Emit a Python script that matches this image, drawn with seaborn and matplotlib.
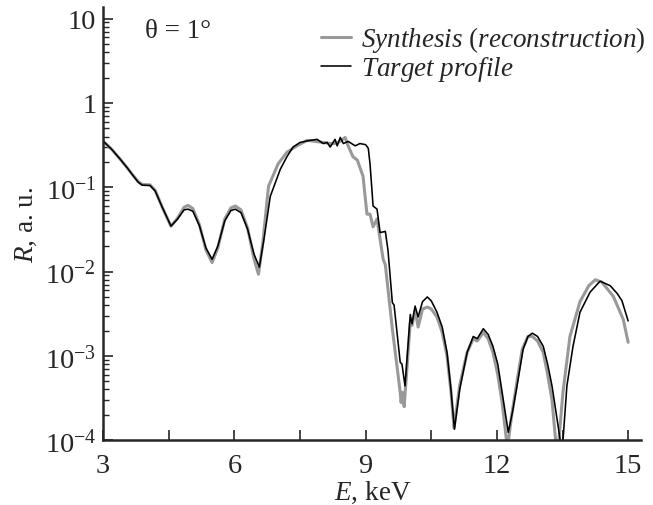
import numpy as np
import pandas as pd
import matplotlib
matplotlib.use("Agg")
import matplotlib.pyplot as plt
import seaborn as sns
from matplotlib.ticker import LogLocator, FixedLocator, NullFormatter

# ======================================================
# Data
# ======================================================

E_target = [3.00, 3.20, 3.39, 3.55, 3.69, 3.80, 3.89, 4.07, 4.19, 4.35,
            4.55, 4.70, 4.85, 4.94, 5.05, 5.20, 5.35, 5.49, 5.62, 5.78,
            5.92, 6.02, 6.15, 6.30, 6.45, 6.57, 6.68, 6.82, 7.05, 7.20,
            7.34, 7.50, 7.73, 7.89, 8.03, 8.12, 8.19, 8.30, 8.35, 8.42,
            8.49, 8.60, 8.76, 8.87, 9.00, 9.06, 9.10, 9.17, 9.26, 9.33,
            9.45, 9.51, 9.61, 9.65, 9.79, 9.83, 9.90, 10.02, 10.06, 10.13,
            10.20, 10.30, 10.41, 10.50, 10.63, 10.75, 10.86, 10.95, 11.03, 11.15,
            11.32, 11.46, 11.55, 11.69, 11.80, 11.91, 12.02, 12.12, 12.26, 12.36,
            12.46, 12.60, 12.71, 12.81, 12.93, 13.06, 13.16, 13.26, 13.40, 13.49,
            13.60, 13.74, 13.90, 14.13, 14.36, 14.59, 14.75, 14.86, 15.00]
R_target = [0.352, 0.28, 0.215, 0.17, 0.136, 0.115, 0.106, 0.105, 0.090, 0.058,
            0.0346, 0.042, 0.054, 0.055, 0.052, 0.035, 0.019, 0.0140, 0.020, 0.040,
            0.053, 0.055, 0.050, 0.032, 0.016, 0.0113, 0.025, 0.078, 0.164, 0.23,
            0.30, 0.34, 0.36, 0.37, 0.33, 0.34, 0.30, 0.37, 0.31, 0.39,
            0.33, 0.35, 0.31, 0.33, 0.32, 0.29, 0.19, 0.060, 0.055, 0.029,
            0.030, 0.018, 0.0043, 0.0040, 0.00084, 0.0008, 0.00044, 0.0031, 0.0024, 0.0039,
            0.0029, 0.0044, 0.0050, 0.0045, 0.0033, 0.0022, 0.0011, 0.0004, 0.000135, 0.0004,
            0.0011, 0.0017, 0.0016, 0.0021, 0.0018, 0.0013, 0.0008, 0.00037, 0.000124, 0.00022,
            0.00044, 0.0012, 0.0017, 0.00186, 0.0017, 0.0013, 0.0008, 0.00044, 0.000147, 0.00007,
            0.00044, 0.0013, 0.0033, 0.0057, 0.0077, 0.0068, 0.0055, 0.0045, 0.0026]

E_synth = [3.00, 3.20, 3.39, 3.55, 3.69, 3.80, 3.89, 4.07, 4.19, 4.35,
           4.55, 4.70, 4.85, 4.94, 5.05, 5.20, 5.35, 5.49, 5.62, 5.78,
           5.92, 6.02, 6.15, 6.30, 6.45, 6.55, 6.65, 6.78, 7.00, 7.20,
           7.43, 7.66, 7.85, 8.03, 8.19, 8.30, 8.42, 8.53, 8.60, 8.71,
           8.81, 8.94, 9.03, 9.10, 9.17, 9.26, 9.40, 9.45, 9.61, 9.79,
           9.81, 9.84, 9.88, 10.02, 10.06, 10.13, 10.20, 10.30, 10.41, 10.50,
           10.63, 10.75, 10.86, 10.95, 11.02, 11.15, 11.32, 11.46, 11.55, 11.69,
           11.80, 11.91, 12.02, 12.12, 12.24, 12.34, 12.46, 12.58, 12.71, 12.81,
           12.93, 13.06, 13.16, 13.26, 13.38, 13.51, 13.67, 13.90, 14.10, 14.25,
           14.40, 14.66, 14.89, 15.00]
R_synth = [0.352, 0.28, 0.215, 0.17, 0.137, 0.117, 0.108, 0.107, 0.092, 0.058,
           0.0345, 0.043, 0.058, 0.061, 0.056, 0.036, 0.018, 0.0128, 0.019, 0.042,
           0.057, 0.060, 0.054, 0.033, 0.014, 0.0093, 0.022, 0.103, 0.19, 0.26,
           0.31, 0.36, 0.35, 0.34, 0.33, 0.33, 0.35, 0.39, 0.31, 0.23,
           0.21, 0.135, 0.048, 0.048, 0.034, 0.042, 0.014, 0.012, 0.0021, 0.00037,
           0.00028, 0.00037, 0.00025, 0.0025, 0.0023, 0.0035, 0.0022, 0.0036, 0.0038, 0.0036,
           0.0029, 0.0019, 0.0010, 0.00038, 0.00014, 0.00045, 0.0011, 0.0016, 0.0015, 0.0019,
           0.0016, 0.0011, 0.0006, 0.00028, 0.00008, 0.0002, 0.0005, 0.0012, 0.0017, 0.0017,
           0.0015, 0.0011, 0.0006, 0.0003, 0.00006, 0.00037, 0.0017, 0.0044, 0.0068, 0.0080,
           0.0075, 0.0051, 0.0027, 0.00145]

x_ticks = [3, 6, 9, 12, 15]
y_ticks = [1e-4, 1e-3, 1e-2, 1e-1, 1, 10]
y_tick_labels = [r"$10^{-4}$", r"$10^{-3}$", r"$10^{-2}$", r"$10^{-1}$", "1", "10"]

# ======================================================
# Style
# ======================================================

sns.set_style("ticks")
plt.rcParams["font.family"] = ["Liberation Serif", "DejaVu Serif"]
plt.rcParams["mathtext.fontset"] = "custom"
plt.rcParams["mathtext.rm"] = "Liberation Serif"
plt.rcParams["mathtext.it"] = "Liberation Serif:italic"

fig = plt.figure(figsize=(6.53, 5.06), dpi=100)
ax = fig.add_axes([0.158, 0.128, 0.824, 0.856])

sns.lineplot(x=E_synth, y=R_synth, ax=ax, color="#999999", linewidth=2.2,
             label=r"$\it{Synthesis}$ (${\it reconstruction}$)")
sns.lineplot(x=E_target, y=R_target, ax=ax, color="black", linewidth=1.15,
             label=r"$\it{Target\ profile}$")

ax.set_yscale("log")
ax.set_xlim(3, 15.3)
ax.set_ylim(1e-4, 13.7)

ax.set_xticks(x_ticks)
ax.set_xticklabels([str(t) for t in x_ticks])
ax.xaxis.set_minor_locator(FixedLocator([4.5, 7.5, 10.5, 13.5]))
ax.set_yticks(y_ticks)
ax.set_yticklabels(y_tick_labels)
ax.yaxis.set_minor_locator(LogLocator(base=10, subs=np.arange(2, 10)))
ax.yaxis.set_minor_formatter(NullFormatter())

ax.tick_params(axis="both", which="major", direction="in", length=7, width=1.2,
               labelsize=20.5)
ax.tick_params(axis="x", which="major", pad=9)
ax.tick_params(axis="y", which="major", pad=5)
ax.tick_params(axis="x", which="minor", direction="in", length=7, width=1.2)
ax.tick_params(axis="y", which="minor", direction="in", length=4, width=1.0)

sns.despine(ax=ax)
for s in ["left", "bottom"]:
    ax.spines[s].set_linewidth(1.8)

ax.set_xlabel(r"$\it{E}$, keV", fontsize=19.5, labelpad=1)
ax.set_ylabel(r"$\it{R}$, a. u.", fontsize=19.5, labelpad=4)

ax.text(0.078, 0.945, "θ = 1°", transform=ax.transAxes, fontsize=19.5,
        va="center", ha="left")

ax.legend(loc="upper left", bbox_to_anchor=(0.405, 0.96), frameon=False,
          fontsize=19.5, handlelength=1.1, handletextpad=0.37,
          labelspacing=0.0, borderpad=0, borderaxespad=0)

plt.savefig("out.png", dpi=100)
